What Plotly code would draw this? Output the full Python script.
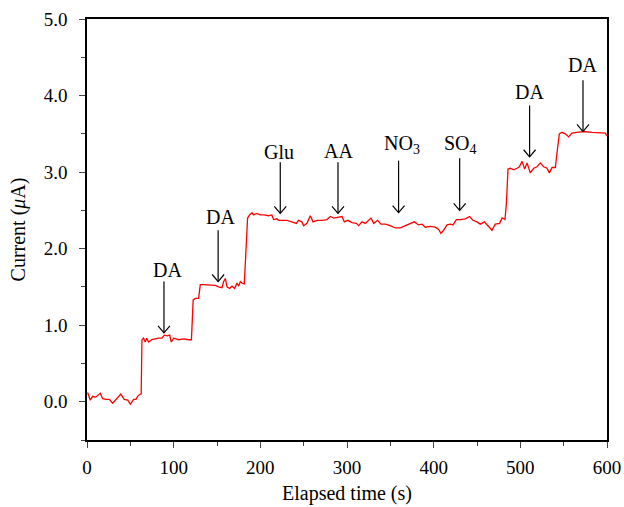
import plotly.graph_objects as go

# ---- data ----
time_s = [0.7, 3.8, 6.5, 10, 15.4, 18, 21.9, 25.8, 29.6, 33.5, 39, 43, 46.9, 50, 53.8, 56.5, 58.4, 61.5, 62.5,
          63.4, 65.3, 67.2, 69, 71, 74.8, 78.7, 82.5, 86.4, 89.2, 92.3, 95.4, 97.3, 100, 105.8, 111.5, 117.3, 120.5,
          122.5, 125, 128.8, 130.7, 134.6, 142.3, 148, 151.9, 155.8, 157.7, 159.6, 161.5, 164.6, 167.3, 170.4, 173,
          175, 176.9, 178.8, 181.5, 183.8, 185.3, 187.6, 190.3, 192.2, 196, 199.9, 204.5, 209.5, 213.3, 215.3, 219.2,
          221, 224.9, 230.7, 236.4, 241.5, 244, 247.9, 250, 253.8, 257.7, 260.8, 265.4, 271.2, 276.9, 280.8, 284.6,
          289.6, 294.2, 296.9, 300.8, 305.8, 310.8, 313.5, 317.3, 321.2, 325, 327.7, 330.8, 335.4, 339.2, 344.2, 350,
          355.8, 361.5, 367.3, 373.1, 377.6, 382.6, 386.5, 390.3, 396.1, 401.8, 405.7, 408.4, 411.5, 415.4, 419.2,
          422.3, 426.2, 430.8, 436.5, 441.5, 445.4, 450, 453.8, 458.5, 462.3, 467.3, 471.1, 476.1, 479, 482.3,
          483.9, 485.8, 488.5, 492.4, 496.2, 498.9, 502, 505, 507.7, 511.5, 515.4, 519.2, 523.1, 526.9, 530.8, 533.5,
          536.6, 540.4, 542.3, 545, 548.1, 551.9, 555.8, 559.6, 565.4, 573.1, 582.7, 598.1, 600]
current_uA = [0.12, 0.02, 0.07, 0.06, 0.11, 0.04, 0.03, 0.03, -0.02, 0.03, 0.10, 0.03, 0.02, -0.03, 0.03, 0.03, 0.07, 0.10, 0.10,
              0.81, 0.83, 0.78, 0.83, 0.78, 0.81, 0.82, 0.83, 0.83, 0.87, 0.86, 0.87, 0.78, 0.83, 0.81, 0.82, 0.81, 0.81,
              1.33, 1.35, 1.35, 1.53, 1.53, 1.52, 1.52, 1.50, 1.49, 1.57, 1.61, 1.50, 1.48, 1.51, 1.48, 1.55,
              1.51, 1.57, 1.55, 1.54, 2.16, 2.40, 2.44, 2.47, 2.44, 2.46, 2.44, 2.44, 2.43, 2.44, 2.38, 2.39,
              2.37, 2.37, 2.37, 2.35, 2.33, 2.37, 2.35, 2.30, 2.33, 2.43, 2.35, 2.37, 2.37, 2.38, 2.42, 2.40,
              2.41, 2.42, 2.35, 2.37, 2.34, 2.33, 2.30, 2.35, 2.33, 2.37, 2.40, 2.33, 2.37, 2.32, 2.32, 2.30,
              2.27, 2.27, 2.30, 2.32, 2.35, 2.31, 2.32, 2.28, 2.29, 2.28, 2.25, 2.20, 2.24, 2.31, 2.32,
              2.31, 2.38, 2.38, 2.39, 2.42, 2.37, 2.35, 2.32, 2.35, 2.30, 2.24, 2.32, 2.33, 2.40, 2.38,
              2.59, 3.04, 3.05, 3.03, 3.05, 3.07, 3.14, 3.04, 3.12, 2.99, 3.05, 3.07, 3.12, 3.07, 3.05, 2.99,
              3.06, 3.06, 3.25, 3.50, 3.52, 3.50, 3.46, 3.51, 3.52, 3.53, 3.52, 3.51, 3.47]

label_text = ["DA", "DA", "Glu", "AA", "NO<sub>3</sub>", "SO<sub>4</sub>", "DA", "DA"]
arrow_t = [88.8, 151.3, 223, 289.6, 359.5, 430, 510.7, 572.3]
arrow_tip = [0.90, 1.57, 2.46, 2.46, 2.47, 2.50, 3.20, 3.53]
arrow_tail = [1.57, 2.24, 3.13, 3.13, 3.15, 3.18, 3.87, 4.20]
label_t = [92.7, 154.5, 222, 290, 363.5, 431.5, 510.6, 571.7]
label_y = [1.72, 2.41, 3.26, 3.27, 3.36, 3.36, 4.05, 4.40]

FONT = "Liberation Serif"

fig = go.Figure()
fig.add_trace(go.Scatter(x=time_s, y=current_uA, mode="lines",
                         line=dict(color="#ff0000", width=1.3), showlegend=False))

# arrow head size in data units (about 6 px wide on each side, 7 px tall)
hw = 6.9
hh = 0.092
shapes = []
for t, tip, tail in zip(arrow_t, arrow_tip, arrow_tail):
    shapes.append(dict(type="line", xref="x", yref="y", x0=t, x1=t, y0=tail, y1=tip,
                       line=dict(color="black", width=1.2)))
    shapes.append(dict(type="path", xref="x", yref="y",
                       path=f"M {t-hw},{tip+hh} L {t},{tip} L {t+hw},{tip+hh}",
                       line=dict(color="black", width=1.2)))

annotations = []
for txt, lx, ly in zip(label_text, label_t, label_y):
    annotations.append(dict(x=lx, y=ly, xref="x", yref="y", text=txt, showarrow=False,
                            font=dict(family=FONT, size=20, color="black"),
                            xanchor="center", yanchor="middle"))

fig.update_layout(
    width=624, height=507,
    margin=dict(l=86.7, r=17.3, t=19, b=67, autoexpand=False),
    paper_bgcolor="white", plot_bgcolor="white",
    font=dict(family=FONT, size=19, color="black"),
    shapes=shapes, annotations=annotations,
    xaxis=dict(range=[0, 600], dtick=100, tick0=0, ticks="outside", ticklen=6, tickwidth=1.3,
               minor=dict(dtick=50, ticks="outside", ticklen=4, tickwidth=1.2),
               showline=True, linecolor="black", linewidth=1.5, mirror=True,
               showgrid=False, zeroline=False, ticklabelstandoff=3,
               title=dict(text="Elapsed time (s)", font=dict(family=FONT, size=20), standoff=9),
               tickfont=dict(family=FONT, size=19)),
    yaxis=dict(range=[-0.5, 5.0], dtick=1, tick0=0, tickformat=".1f", ticks="outside", ticklen=6, tickwidth=1.3,
               minor=dict(dtick=0.5, ticks="outside", ticklen=4, tickwidth=1.2),
               showline=True, linecolor="black", linewidth=1.5, mirror=True,
               showgrid=False, zeroline=False, ticklabelstandoff=8,
               title=dict(text="Current (<i>μ</i>A)", font=dict(family=FONT, size=20), standoff=13),
               tickfont=dict(family=FONT, size=19)),
)

fig.write_html("out.html", config={"displayModeBar": False},
               post_script="document.body.style.margin='0';document.body.style.padding='0';")
